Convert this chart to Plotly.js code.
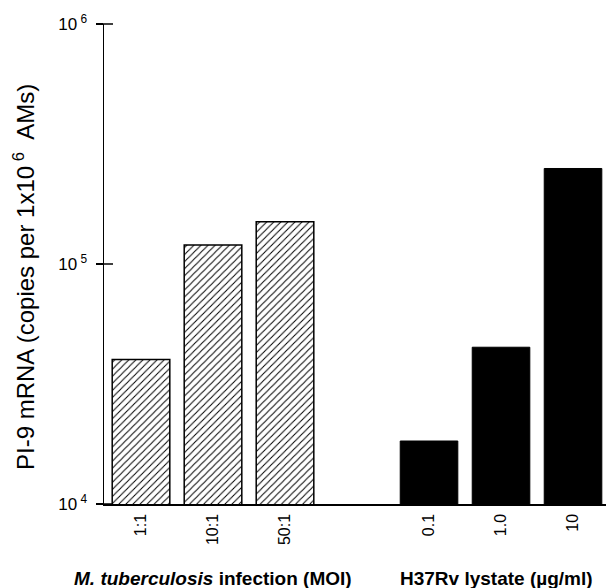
<!DOCTYPE html>
<html>
<head>
<meta charset="utf-8">
<script src="https://cdn.plot.ly/plotly-3.0.1.min.js"></script>
<style>html,body{margin:0;padding:0;background:#fff;}#chart{width:606px;height:588px;}</style>
</head>
<body>
<div id="chart"></div>
<script>
// Data
var mtbCategories = ['1:1', '10:1', '50:1'];
var mtbValues = [40000, 120000, 150000];
var lysateCategories = ['0.1', '1.0', '10'];
var lysateValues = [18300, 45000, 250000];
var spacer = [' '];
var yTickVals = [1e4, 1e5, 1e6];
var yTickText = ['10<sup> 4</sup>', '10<sup> 5</sup>', '10<sup> 6</sup>'];
var mtbTitle = '<b><i>M. tuberculosis</i> infection (MOI)</b>';
var lysateTitle = '<b>H37Rv lystate (µg/ml)</b>';
var yTitle = 'PI-9 mRNA (copies per 1x10<sup> 6</sup>  AMs)';

var FONT = 'Liberation Sans, Arial, sans-serif';
var categoryOrder = mtbCategories.concat(spacer, lysateCategories);
var yRange = [4, 6];

var traces = [
  {
    type: 'bar', x: mtbCategories, y: mtbValues, width: 0.8,
    marker: {
      color: 'white',
      line: {color: 'black', width: 1.5},
      pattern: {shape: '/', fgcolor: 'black', bgcolor: 'white', size: 5, solidity: 0.2}
    },
    hoverinfo: 'x+y', showlegend: false
  },
  {
    type: 'bar', x: lysateCategories, y: lysateValues, width: 0.8,
    marker: {color: 'black', line: {color: 'black', width: 1}},
    hoverinfo: 'x+y', showlegend: false
  }
];

// tick marks that cross the y axis (drawn on both sides of the line)
var tickShapes = yTickVals.map(function (v) {
  var yp = (Math.log10(v) - yRange[0]) / (yRange[1] - yRange[0]);
  return {
    type: 'line', xref: 'paper', xsizemode: 'pixel', xanchor: 0, x0: -7, x1: 9,
    yref: 'paper', y0: yp, y1: yp,
    line: {color: 'black', width: 1.5}
  };
});

var layout = {
  width: 606, height: 588,
  margin: {l: 104, r: 0, t: 24, b: 84},
  paper_bgcolor: 'white', plot_bgcolor: 'white',
  font: {family: FONT, color: 'black', size: 14},
  xaxis: {
    type: 'category', categoryorder: 'array', categoryarray: categoryOrder,
    range: [-0.514, 6.458],
    showline: true, linecolor: 'black', linewidth: 1.5,
    ticks: '', tickangle: -90, ticklabelstandoff: 2,
    tickfont: {family: FONT, size: 16, color: 'black'},
    showgrid: false, zeroline: false, fixedrange: true
  },
  yaxis: {
    type: 'log', range: yRange,
    tickvals: yTickVals, ticktext: yTickText,
    ticks: 'outside', ticklen: 7, tickwidth: 1.5, tickcolor: 'black',
    ticklabelstandoff: 5,
    showline: true, linecolor: 'black', linewidth: 1.5,
    tickfont: {family: FONT, size: 17, color: 'black'},
    showgrid: false, zeroline: false, fixedrange: true
  },
  shapes: tickShapes,
  annotations: [
    {text: mtbTitle, xref: 'x', x: categoryOrder.indexOf(mtbCategories[1]), yref: 'paper', y: 0, yshift: -74,
     xanchor: 'center', yanchor: 'middle', showarrow: false, font: {family: FONT, size: 19, color: 'black'}},
    {text: lysateTitle, xref: 'x', x: categoryOrder.indexOf(lysateCategories[1]), xshift: -5, yref: 'paper', y: 0, yshift: -74,
     xanchor: 'center', yanchor: 'middle', showarrow: false, font: {family: FONT, size: 19, color: 'black'}},
    {text: yTitle, textangle: -90, xref: 'paper', x: 0, xshift: -80, yref: 'paper', y: 0.5, yshift: -13,
     xanchor: 'center', yanchor: 'middle', showarrow: false, font: {family: FONT, size: 24, color: 'black'}}
  ]
};

Plotly.newPlot('chart', traces, layout, {displayModeBar: false, staticPlot: true});
</script>
</body>
</html>
